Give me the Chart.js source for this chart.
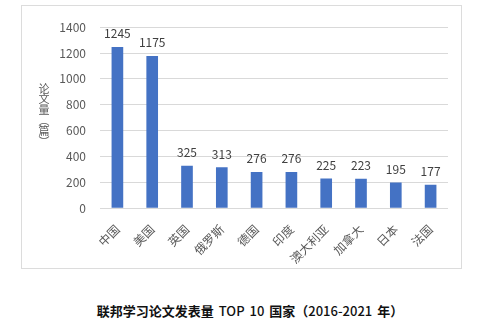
<!DOCTYPE html>
<html>
<head>
<meta charset="utf-8">
<script src="https://cdn.jsdelivr.net/npm/chart.js@4.4.1/dist/chart.umd.min.js"></script>
<style>
  html, body { margin: 0; padding: 0; background: #fff; }
  body { width: 500px; height: 333px; position: relative; overflow: hidden; }
  #box {
    position: absolute; left: 21px; top: 5px;
    width: 439px; height: 262px;
    border: 1px solid #dcdcdc;
  }
  #chart { display: block; }
  #ytitle {
    position: absolute; left: 37px; top: 83px;
    writing-mode: vertical-rl;
    text-orientation: upright;
    font: 11px "Noto Sans CJK SC", sans-serif;
    line-height: 14px;
    letter-spacing: -0.3px;
    color: #595959;
  }
  #caption {
    position: absolute; left: 0; top: 301px; width: 500px;
    text-align: center;
    font: bold 13px "Noto Sans CJK SC", sans-serif;
    color: #111;
  }
  #caption span { font-weight: 500; word-spacing: 2px; }
</style>
</head>
<body>
<div id="box"><canvas id="chart" width="439" height="262"></canvas></div>
<div id="ytitle">论文量（篇）</div>
<div id="caption">联邦学习论文发表量<span> TOP 10 </span>国家（<span>2016-2021 </span>年）</div>
<script>
// categories and values
const countries = ['中国', '美国', '英国', '俄罗斯', '德国', '印度', '澳大利亚', '加拿大', '日本', '法国'];
const paperCounts = [1245, 1175, 325, 313, 276, 276, 225, 223, 195, 177];
const yMin = 0;
const yMax = 1400;
const yStep = 200;

const FONT = '"Noto Sans CJK SC", sans-serif';

// numbers above each bar
const valueLabels = {
  id: 'valueLabels',
  afterDatasetsDraw(chart) {
    const ctx = chart.ctx;
    const meta = chart.getDatasetMeta(0);
    ctx.save();
    ctx.font = '12px ' + FONT;
    ctx.fillStyle = '#404040';
    ctx.textAlign = 'center';
    ctx.textBaseline = 'alphabetic';
    meta.data.forEach((bar, i) => {
      ctx.fillText(String(paperCounts[i]), bar.x, bar.y - 9);
    });
    ctx.restore();
  }
};

const ctx = document.getElementById('chart').getContext('2d');
new Chart(ctx, {
  type: 'bar',
  data: {
    labels: countries,
    datasets: [{
      data: paperCounts,
      backgroundColor: '#4472c4',
      borderWidth: 0,
      barThickness: 11
    }]
  },
  options: {
    responsive: false,
    animation: false,
    layout: { padding: { top: 12, right: 13, left: 0, bottom: 0 } },
    plugins: {
      legend: { display: false },
      tooltip: { enabled: false }
    },
    scales: {
      x: {
        grid: { display: false },
        border: { display: false },
        ticks: {
          color: '#595959',
          font: { family: FONT, size: 12 },
          maxRotation: 45,
          minRotation: 45,
          padding: 6
        },
        afterFit(scale) { scale.height = 60; }
      },
      y: {
        min: yMin,
        max: yMax,
        grid: { color: '#d9d9d9', drawTicks: false },
        border: { display: false },
        ticks: {
          stepSize: yStep,
          color: '#595959',
          font: { family: FONT, size: 12 },
          padding: 14,
          callback: v => String(v)
        },
        afterFit(scale) { scale.width = 78; }
      }
    }
  },
  plugins: [valueLabels]
});
</script>
</body>
</html>
